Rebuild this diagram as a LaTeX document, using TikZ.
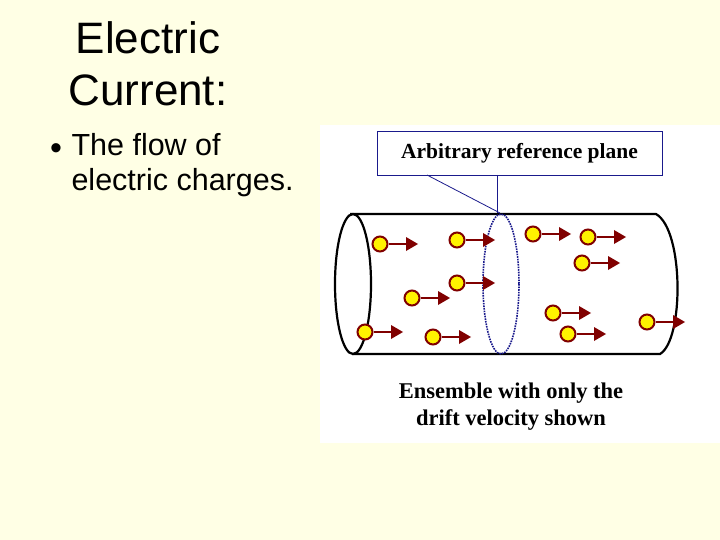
\documentclass[tikz,border=0pt]{standalone}
\usepackage{fontspec}
\setmainfont{Liberation Sans}
\newfontfamily\serifb{Liberation Serif}
\begin{document}
\begin{tikzpicture}[x=1pt,y=-1pt,
  chg/.style={circle,draw=chgred,fill=yellow,line width=2pt,minimum size=15pt,inner sep=0pt},
  darrow/.style={chgred,line width=2.6pt},
  lbl/.style={font=\serifb\bfseries\fontsize{22.5}{27}\selectfont,align=center}]
\definecolor{bg}{HTML}{FFFFE5}
\definecolor{chgred}{HTML}{800000}
\definecolor{pl}{HTML}{1A1A8C}
\fill[bg] (0,0) rectangle (720,540);
\useasboundingbox (0,0) rectangle (720,540);
\fill[white] (320,125) rectangle (720,443);
\node[font=\fontsize{44}{52}\selectfont,align=center] (title) at (148,64) {Electric\\Current:};
\node[font=\fontsize{34}{30}\selectfont,anchor=center] (bul) at (56,152) {•};
\node[font=\fontsize{30.5}{35}\selectfont,align=left,anchor=north west] (txt) at (68,130) {The flow of\\electric charges.};
% cylinder
\draw[line width=2.2pt] (353,284) ellipse [x radius=18, y radius=70];
\draw[line width=2.2pt] (350,214) -- (656,214) .. controls (684,230) and (684,340) .. (660,354) -- (352,354);
\draw[pl,densely dotted,line width=1.6pt] (501,284) ellipse [x radius=18, y radius=70];
% callout
\node[draw=pl,fill=white,line width=0.8pt,minimum width=285,minimum height=44,font=\serifb\bfseries\fontsize{21.5}{24}\selectfont] (call) at (519.5,153) {Arbitrary reference plane};
\coordinate (tip) at (500,213);
\draw[pl,line width=0.8pt] (427,175) -- (tip);
\draw[pl,line width=0.8pt] (497,175) -- (497,213);
% charges
\foreach \i/\x/\y in {1/380/244,2/457/240,3/533/234,4/588/237,5/582/263,6/457/283,7/412/298,8/365/332,9/433/337,10/553/313,11/568/334,12/647/322}{
  \node[chg] (c\i) at (\x,\y) {};
  \coordinate (e\i) at (\x+38,\y);
  \draw[darrow] (c\i.east) -- ++(19,0);
  \fill[chgred] (\x+26,\y-7) -- (e\i) -- (\x+26,\y+7) -- cycle;
}
\node[lbl] (cap) at (511,407) {Ensemble with only the\\drift velocity shown};
\end{tikzpicture}
\end{document}
